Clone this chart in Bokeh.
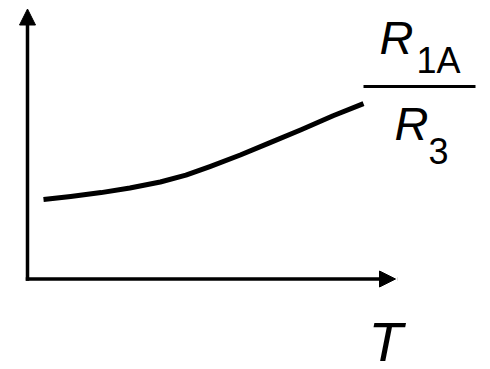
from bokeh.plotting import figure
from bokeh.models import Range1d, Arrow, NormalHead, BoxAnnotation
from bokeh.core.properties import value
from bokeh.embed import file_html
from bokeh.resources import INLINE

# Ratio R1A/R3 as a function of temperature (arbitrary units)
temperature = [0.5, 1.35, 2.3, 3.2, 4.15, 4.95, 5.7, 6.65, 7.6, 8.55, 9.55, 10.5]
ratio = [3.98, 4.13, 4.32, 4.55, 4.85, 5.19, 5.62, 6.2, 6.83, 7.46, 8.16, 8.77]

# Extent of the two axis arrows (data units)
t_axis_end = 11.5
ratio_axis_end = 13.5

W, H = 490, 369
# pixels per data unit and pixel position of the origin
KX, KY = 32.0, 20.0
ORIGIN_PX, ORIGIN_PY = 27.0, 278.5

x_range = Range1d(-ORIGIN_PX / KX, (W - ORIGIN_PX) / KX)
y_range = Range1d(-(H - ORIGIN_PY) / KY, ORIGIN_PY / KY)


def at_x(px):
    """Canvas pixel column -> data x."""
    return x_range.start + px / KX


def at_y(py):
    """Canvas pixel row (from top) -> data y."""
    return y_range.end - py / KY


p = figure(width=W, height=H, x_range=x_range, y_range=y_range,
           output_backend="svg", toolbar_location=None,
           x_axis_type=None, y_axis_type=None, min_border=0)
p.grid.visible = False
p.outline_line_color = None
p.background_fill_color = "white"
p.border_fill_color = "white"

# Axes drawn as arrows from the origin
for xe, ye in [(0, ratio_axis_end), (t_axis_end, 0)]:
    p.add_layout(Arrow(x_start=0, y_start=0, x_end=xe, y_end=ye,
                       line_color="black", line_width=3.5, line_cap="square",
                       end=NormalHead(size=16, fill_color="black",
                                      line_color="black", line_width=1)))

# The curve
p.line(temperature, ratio, line_color="black", line_width=5,
       line_join="round", line_cap="butt")

FONT = "Liberation Sans"
# the text glyph's alphabetic anchor sits a little above the drawn baseline
BASELINE_SHIFT = 0.42


def label(text, px, py, size, italic):
    p.text(x=[at_x(px)], y=[at_y(py - BASELINE_SHIFT * size)], text=[text],
           text_font=value(FONT), text_font_size=value(f"{size}px"),
           text_font_style="italic" if italic else "normal",
           text_color="black", text_baseline="alphabetic",
           text_align="left")


# y-axis quantity: R_1A / R_3
label("R", 379, 57, 47, True)
label("1A", 416, 75, 36, False)
p.add_layout(BoxAnnotation(left=at_x(363), right=at_x(475),
                           top=at_y(84.5), bottom=at_y(87.5),
                           fill_color="black", fill_alpha=1.0,
                           line_color=None))
label("R", 394, 143, 47, True)
label("3", 428, 166, 36, False)

# x-axis quantity
label("T", 368, 365, 56, True)

open("out.html", "w").write(file_html(p, INLINE))
